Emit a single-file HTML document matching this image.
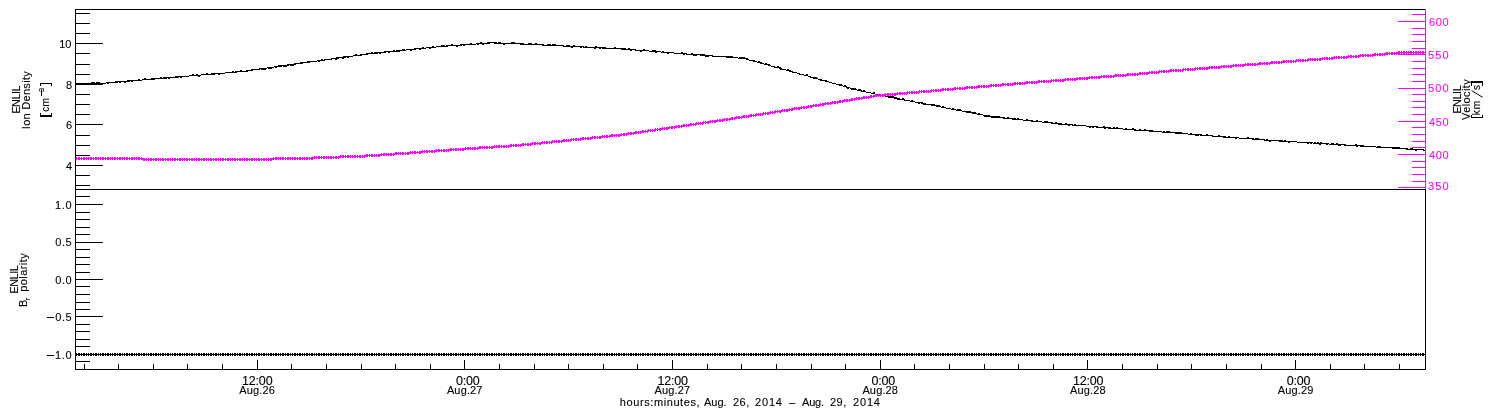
<!DOCTYPE html>
<html><head><meta charset="utf-8"><title>ENLIL</title>
<style>
html,body{margin:0;padding:0;background:#fff;}
svg{display:block}
svg{font-family:"Liberation Sans",sans-serif;}
</style></head><body>
<svg width="1500" height="410" viewBox="0 0 1500 410">
<rect width="1500" height="410" fill="#fff"/>
<g fill="none" stroke-width="1" shape-rendering="crispEdges">
<path stroke="#000" d="M75 9.5H1426M75 189.5H1426M75 369.5H1426M75.5 9V370M1425.5 189V370M75 13.5H90M75 23.5H90M75 33.5H90M75 43.5H103M75 53.5H90M75 64.5H90M75 74.5H90M75 84.5H103M75 94.5H90M75 104.5H90M75 114.5H90M75 124.5H103M75 135.5H90M75 145.5H90M75 155.5H90M75 165.5H103M75 175.5H90M75 185.5H90M75 196.5H90M75 204.5H103M75 212.5H90M75 219.5H90M75 227.5H90M75 234.5H90M75 242.5H103M75 249.5H90M75 257.5H90M75 264.5H90M75 272.5H90M75 279.5H103M75 286.5H90M75 294.5H90M75 302.5H90M75 309.5H90M75 316.5H103M75 324.5H90M75 331.5H90M75 339.5H90M75 346.5H90M75 354.5H103M75 361.5H90M84.5 364V370M118.5 364V370M153.5 364V370M187.5 364V370M222.5 364V370M257.5 360V370M291.5 364V370M326.5 364V370M361.5 364V370M395.5 364V370M430.5 364V370M464.5 360V370M499.5 364V370M534.5 364V370M568.5 364V370M603.5 364V370M637.5 364V370M672.5 360V370M707.5 364V370M741.5 364V370M776.5 364V370M811.5 364V370M845.5 364V370M880.5 360V370M914.5 364V370M949.5 364V370M984.5 364V370M1018.5 364V370M1053.5 364V370M1087.5 360V370M1122.5 364V370M1157.5 364V370M1191.5 364V370M1226.5 364V370M1261.5 364V370M1295.5 360V370M1330.5 364V370M1364.5 364V370M1399.5 364V370"/>
<path stroke="#f0f" d="M1425.5 9V189M1398 187.5H1426M1412 181.5H1426M1412 174.5H1426M1412 167.5H1426M1412 161.5H1426M1398 154.5H1426M1412 147.5H1426M1412 141.5H1426M1412 134.5H1426M1412 127.5H1426M1398 121.5H1426M1412 114.5H1426M1412 107.5H1426M1412 101.5H1426M1412 94.5H1426M1398 88.5H1426M1412 81.5H1426M1412 74.5H1426M1412 68.5H1426M1412 61.5H1426M1398 54.5H1426M1412 48.5H1426M1412 41.5H1426M1412 34.5H1426M1412 28.5H1426M1398 21.5H1426M1412 14.5H1426"/>
<path stroke="#000" d="M76 353.5h1M78 353.5h2M81 353.5h1M83 353.5h2M86 353.5h1M88 353.5h1M90 353.5h2M93 353.5h1M95 353.5h2M98 353.5h1M100 353.5h1M102 353.5h2M105 353.5h1M107 353.5h2M110 353.5h1M112 353.5h1M114 353.5h2M117 353.5h1M119 353.5h2M122 353.5h1M124 353.5h1M126 353.5h2M129 353.5h1M131 353.5h2M134 353.5h1M136 353.5h1M138 353.5h2M141 353.5h1M143 353.5h2M146 353.5h1M148 353.5h1M150 353.5h2M153 353.5h1M155 353.5h2M158 353.5h1M160 353.5h1M162 353.5h2M165 353.5h1M167 353.5h2M170 353.5h1M172 353.5h1M174 353.5h2M177 353.5h1M179 353.5h2M182 353.5h1M184 353.5h1M186 353.5h2M189 353.5h1M191 353.5h2M194 353.5h1M196 353.5h1M198 353.5h2M201 353.5h1M203 353.5h2M206 353.5h1M208 353.5h1M210 353.5h2M213 353.5h1M215 353.5h2M218 353.5h1M220 353.5h1M222 353.5h2M225 353.5h1M227 353.5h2M230 353.5h1M232 353.5h1M234 353.5h2M237 353.5h1M239 353.5h2M242 353.5h1M244 353.5h1M246 353.5h2M249 353.5h1M251 353.5h2M254 353.5h1M256 353.5h1M258 353.5h2M261 353.5h1M263 353.5h2M266 353.5h1M268 353.5h1M270 353.5h2M273 353.5h1M275 353.5h2M278 353.5h1M280 353.5h1M282 353.5h2M285 353.5h1M287 353.5h2M290 353.5h1M292 353.5h1M294 353.5h2M297 353.5h1M299 353.5h2M302 353.5h1M304 353.5h1M306 353.5h2M309 353.5h1M311 353.5h2M314 353.5h1M316 353.5h1M318 353.5h2M321 353.5h1M323 353.5h2M326 353.5h1M328 353.5h1M330 353.5h2M333 353.5h1M335 353.5h2M338 353.5h1M340 353.5h1M342 353.5h2M345 353.5h1M347 353.5h2M350 353.5h1M352 353.5h1M354 353.5h2M357 353.5h1M359 353.5h2M362 353.5h1M364 353.5h1M366 353.5h2M369 353.5h1M371 353.5h2M374 353.5h1M376 353.5h1M378 353.5h2M381 353.5h1M383 353.5h2M386 353.5h1M388 353.5h1M390 353.5h2M393 353.5h1M395 353.5h2M398 353.5h1M400 353.5h1M402 353.5h2M405 353.5h1M407 353.5h2M410 353.5h1M412 353.5h1M414 353.5h2M417 353.5h1M419 353.5h2M422 353.5h1M424 353.5h1M426 353.5h2M429 353.5h1M431 353.5h2M434 353.5h1M436 353.5h1M438 353.5h2M441 353.5h1M443 353.5h2M446 353.5h1M448 353.5h1M450 353.5h2M453 353.5h1M455 353.5h2M458 353.5h1M460 353.5h1M462 353.5h2M465 353.5h1M467 353.5h2M470 353.5h1M472 353.5h1M474 353.5h2M477 353.5h1M479 353.5h2M482 353.5h1M484 353.5h1M486 353.5h2M489 353.5h1M491 353.5h2M494 353.5h1M496 353.5h1M498 353.5h2M501 353.5h1M503 353.5h2M506 353.5h1M508 353.5h1M510 353.5h2M513 353.5h1M515 353.5h2M518 353.5h1M520 353.5h1M522 353.5h2M525 353.5h1M527 353.5h2M530 353.5h1M532 353.5h1M534 353.5h2M537 353.5h1M539 353.5h2M542 353.5h1M544 353.5h1M546 353.5h2M549 353.5h1M551 353.5h2M554 353.5h1M556 353.5h1M558 353.5h2M561 353.5h1M563 353.5h2M566 353.5h1M568 353.5h1M570 353.5h2M573 353.5h1M575 353.5h2M578 353.5h1M580 353.5h1M582 353.5h2M585 353.5h1M587 353.5h2M590 353.5h1M592 353.5h1M594 353.5h2M597 353.5h1M599 353.5h2M602 353.5h1M604 353.5h1M606 353.5h2M609 353.5h1M611 353.5h2M614 353.5h1M616 353.5h1M618 353.5h2M621 353.5h1M623 353.5h2M626 353.5h1M628 353.5h1M630 353.5h2M633 353.5h1M635 353.5h2M638 353.5h1M640 353.5h1M642 353.5h2M645 353.5h1M647 353.5h2M650 353.5h1M652 353.5h1M654 353.5h2M657 353.5h1M659 353.5h2M662 353.5h1M664 353.5h1M666 353.5h2M669 353.5h1M671 353.5h2M674 353.5h1M676 353.5h1M678 353.5h2M681 353.5h1M683 353.5h2M686 353.5h1M688 353.5h1M690 353.5h2M693 353.5h1M695 353.5h2M698 353.5h1M700 353.5h1M702 353.5h2M705 353.5h1M707 353.5h2M710 353.5h1M712 353.5h1M714 353.5h2M717 353.5h1M719 353.5h2M722 353.5h1M724 353.5h1M726 353.5h2M729 353.5h1M731 353.5h2M734 353.5h1M736 353.5h1M738 353.5h2M741 353.5h1M743 353.5h2M746 353.5h1M748 353.5h1M750 353.5h2M753 353.5h1M755 353.5h2M758 353.5h1M760 353.5h1M762 353.5h2M765 353.5h1M767 353.5h2M770 353.5h1M772 353.5h1M774 353.5h2M777 353.5h1M779 353.5h2M782 353.5h1M784 353.5h1M786 353.5h2M789 353.5h1M791 353.5h2M794 353.5h1M796 353.5h1M798 353.5h2M801 353.5h1M803 353.5h2M806 353.5h1M808 353.5h1M810 353.5h2M813 353.5h1M815 353.5h2M818 353.5h1M820 353.5h1M822 353.5h2M825 353.5h1M827 353.5h2M830 353.5h1M832 353.5h1M834 353.5h2M837 353.5h1M839 353.5h2M842 353.5h1M844 353.5h1M846 353.5h2M849 353.5h1M851 353.5h2M854 353.5h1M856 353.5h1M858 353.5h2M861 353.5h1M863 353.5h2M866 353.5h1M868 353.5h1M870 353.5h2M873 353.5h1M875 353.5h2M878 353.5h1M880 353.5h1M882 353.5h2M885 353.5h1M887 353.5h2M890 353.5h1M892 353.5h1M894 353.5h2M897 353.5h1M899 353.5h2M902 353.5h1M904 353.5h1M906 353.5h2M909 353.5h1M911 353.5h2M914 353.5h1M916 353.5h1M918 353.5h2M921 353.5h1M923 353.5h2M926 353.5h1M928 353.5h1M930 353.5h2M933 353.5h1M935 353.5h2M938 353.5h1M940 353.5h1M942 353.5h2M945 353.5h1M947 353.5h2M950 353.5h1M952 353.5h1M954 353.5h2M957 353.5h1M959 353.5h2M962 353.5h1M964 353.5h1M966 353.5h2M969 353.5h1M971 353.5h2M974 353.5h1M976 353.5h1M978 353.5h2M981 353.5h1M983 353.5h2M986 353.5h1M988 353.5h1M990 353.5h2M993 353.5h1M995 353.5h2M998 353.5h1M1000 353.5h1M1002 353.5h2M1005 353.5h1M1007 353.5h2M1010 353.5h1M1012 353.5h1M1014 353.5h2M1017 353.5h1M1019 353.5h2M1022 353.5h1M1024 353.5h1M1026 353.5h2M1029 353.5h1M1031 353.5h2M1034 353.5h1M1036 353.5h1M1038 353.5h2M1041 353.5h1M1043 353.5h2M1046 353.5h1M1048 353.5h1M1050 353.5h2M1053 353.5h1M1055 353.5h2M1058 353.5h1M1060 353.5h1M1062 353.5h2M1065 353.5h1M1067 353.5h2M1070 353.5h1M1072 353.5h1M1074 353.5h2M1077 353.5h1M1079 353.5h2M1082 353.5h1M1084 353.5h1M1086 353.5h2M1089 353.5h1M1091 353.5h2M1094 353.5h1M1096 353.5h1M1098 353.5h2M1101 353.5h1M1103 353.5h2M1106 353.5h1M1108 353.5h1M1110 353.5h2M1113 353.5h1M1115 353.5h2M1118 353.5h1M1120 353.5h1M1122 353.5h2M1125 353.5h1M1127 353.5h2M1130 353.5h1M1132 353.5h1M1134 353.5h2M1137 353.5h1M1139 353.5h2M1142 353.5h1M1144 353.5h1M1146 353.5h2M1149 353.5h1M1151 353.5h2M1154 353.5h1M1156 353.5h1M1158 353.5h2M1161 353.5h1M1163 353.5h2M1166 353.5h1M1168 353.5h1M1170 353.5h2M1173 353.5h1M1175 353.5h2M1178 353.5h1M1180 353.5h1M1182 353.5h2M1185 353.5h1M1187 353.5h2M1190 353.5h1M1192 353.5h1M1194 353.5h2M1197 353.5h1M1199 353.5h2M1202 353.5h1M1204 353.5h1M1206 353.5h2M1209 353.5h1M1211 353.5h2M1214 353.5h1M1216 353.5h1M1218 353.5h2M1221 353.5h1M1223 353.5h2M1226 353.5h1M1228 353.5h1M1230 353.5h2M1233 353.5h1M1235 353.5h2M1238 353.5h1M1240 353.5h1M1242 353.5h2M1245 353.5h1M1247 353.5h2M1250 353.5h1M1252 353.5h1M1254 353.5h2M1257 353.5h1M1259 353.5h2M1262 353.5h1M1264 353.5h1M1266 353.5h2M1269 353.5h1M1271 353.5h2M1274 353.5h1M1276 353.5h1M1278 353.5h2M1281 353.5h1M1283 353.5h2M1286 353.5h1M1288 353.5h1M1290 353.5h2M1293 353.5h1M1295 353.5h2M1298 353.5h1M1300 353.5h1M1302 353.5h2M1305 353.5h1M1307 353.5h2M1310 353.5h1M1312 353.5h1M1314 353.5h2M1317 353.5h1M1319 353.5h2M1322 353.5h1M1324 353.5h1M1326 353.5h2M1329 353.5h1M1331 353.5h2M1334 353.5h1M1336 353.5h1M1338 353.5h2M1341 353.5h1M1343 353.5h2M1346 353.5h1M1348 353.5h1M1350 353.5h2M1353 353.5h1M1355 353.5h2M1358 353.5h1M1360 353.5h1M1362 353.5h2M1365 353.5h1M1367 353.5h2M1370 353.5h1M1372 353.5h1M1374 353.5h2M1377 353.5h1M1379 353.5h2M1382 353.5h1M1384 353.5h1M1386 353.5h2M1389 353.5h1M1391 353.5h2M1394 353.5h1M1396 353.5h1M1398 353.5h2M1401 353.5h1M1403 353.5h2M1406 353.5h1M1408 353.5h1M1410 353.5h2M1413 353.5h1M1415 353.5h2M1418 353.5h1M1420 353.5h1M1422 353.5h2M1425 353.5h1M75 354.5h1351M76 355.5h1M78 355.5h2M81 355.5h1M83 355.5h2M86 355.5h1M88 355.5h1M90 355.5h2M93 355.5h1M95 355.5h2M98 355.5h1M100 355.5h1M102 355.5h2M105 355.5h1M107 355.5h2M110 355.5h1M112 355.5h1M114 355.5h2M117 355.5h1M119 355.5h2M122 355.5h1M124 355.5h1M126 355.5h2M129 355.5h1M131 355.5h2M134 355.5h1M136 355.5h1M138 355.5h2M141 355.5h1M143 355.5h2M146 355.5h1M148 355.5h1M150 355.5h2M153 355.5h1M155 355.5h2M158 355.5h1M160 355.5h1M162 355.5h2M165 355.5h1M167 355.5h2M170 355.5h1M172 355.5h1M174 355.5h2M177 355.5h1M179 355.5h2M182 355.5h1M184 355.5h1M186 355.5h2M189 355.5h1M191 355.5h2M194 355.5h1M196 355.5h1M198 355.5h2M201 355.5h1M203 355.5h2M206 355.5h1M208 355.5h1M210 355.5h2M213 355.5h1M215 355.5h2M218 355.5h1M220 355.5h1M222 355.5h2M225 355.5h1M227 355.5h2M230 355.5h1M232 355.5h1M234 355.5h2M237 355.5h1M239 355.5h2M242 355.5h1M244 355.5h1M246 355.5h2M249 355.5h1M251 355.5h2M254 355.5h1M256 355.5h1M258 355.5h2M261 355.5h1M263 355.5h2M266 355.5h1M268 355.5h1M270 355.5h2M273 355.5h1M275 355.5h2M278 355.5h1M280 355.5h1M282 355.5h2M285 355.5h1M287 355.5h2M290 355.5h1M292 355.5h1M294 355.5h2M297 355.5h1M299 355.5h2M302 355.5h1M304 355.5h1M306 355.5h2M309 355.5h1M311 355.5h2M314 355.5h1M316 355.5h1M318 355.5h2M321 355.5h1M323 355.5h2M326 355.5h1M328 355.5h1M330 355.5h2M333 355.5h1M335 355.5h2M338 355.5h1M340 355.5h1M342 355.5h2M345 355.5h1M347 355.5h2M350 355.5h1M352 355.5h1M354 355.5h2M357 355.5h1M359 355.5h2M362 355.5h1M364 355.5h1M366 355.5h2M369 355.5h1M371 355.5h2M374 355.5h1M376 355.5h1M378 355.5h2M381 355.5h1M383 355.5h2M386 355.5h1M388 355.5h1M390 355.5h2M393 355.5h1M395 355.5h2M398 355.5h1M400 355.5h1M402 355.5h2M405 355.5h1M407 355.5h2M410 355.5h1M412 355.5h1M414 355.5h2M417 355.5h1M419 355.5h2M422 355.5h1M424 355.5h1M426 355.5h2M429 355.5h1M431 355.5h2M434 355.5h1M436 355.5h1M438 355.5h2M441 355.5h1M443 355.5h2M446 355.5h1M448 355.5h1M450 355.5h2M453 355.5h1M455 355.5h2M458 355.5h1M460 355.5h1M462 355.5h2M465 355.5h1M467 355.5h2M470 355.5h1M472 355.5h1M474 355.5h2M477 355.5h1M479 355.5h2M482 355.5h1M484 355.5h1M486 355.5h2M489 355.5h1M491 355.5h2M494 355.5h1M496 355.5h1M498 355.5h2M501 355.5h1M503 355.5h2M506 355.5h1M508 355.5h1M510 355.5h2M513 355.5h1M515 355.5h2M518 355.5h1M520 355.5h1M522 355.5h2M525 355.5h1M527 355.5h2M530 355.5h1M532 355.5h1M534 355.5h2M537 355.5h1M539 355.5h2M542 355.5h1M544 355.5h1M546 355.5h2M549 355.5h1M551 355.5h2M554 355.5h1M556 355.5h1M558 355.5h2M561 355.5h1M563 355.5h2M566 355.5h1M568 355.5h1M570 355.5h2M573 355.5h1M575 355.5h2M578 355.5h1M580 355.5h1M582 355.5h2M585 355.5h1M587 355.5h2M590 355.5h1M592 355.5h1M594 355.5h2M597 355.5h1M599 355.5h2M602 355.5h1M604 355.5h1M606 355.5h2M609 355.5h1M611 355.5h2M614 355.5h1M616 355.5h1M618 355.5h2M621 355.5h1M623 355.5h2M626 355.5h1M628 355.5h1M630 355.5h2M633 355.5h1M635 355.5h2M638 355.5h1M640 355.5h1M642 355.5h2M645 355.5h1M647 355.5h2M650 355.5h1M652 355.5h1M654 355.5h2M657 355.5h1M659 355.5h2M662 355.5h1M664 355.5h1M666 355.5h2M669 355.5h1M671 355.5h2M674 355.5h1M676 355.5h1M678 355.5h2M681 355.5h1M683 355.5h2M686 355.5h1M688 355.5h1M690 355.5h2M693 355.5h1M695 355.5h2M698 355.5h1M700 355.5h1M702 355.5h2M705 355.5h1M707 355.5h2M710 355.5h1M712 355.5h1M714 355.5h2M717 355.5h1M719 355.5h2M722 355.5h1M724 355.5h1M726 355.5h2M729 355.5h1M731 355.5h2M734 355.5h1M736 355.5h1M738 355.5h2M741 355.5h1M743 355.5h2M746 355.5h1M748 355.5h1M750 355.5h2M753 355.5h1M755 355.5h2M758 355.5h1M760 355.5h1M762 355.5h2M765 355.5h1M767 355.5h2M770 355.5h1M772 355.5h1M774 355.5h2M777 355.5h1M779 355.5h2M782 355.5h1M784 355.5h1M786 355.5h2M789 355.5h1M791 355.5h2M794 355.5h1M796 355.5h1M798 355.5h2M801 355.5h1M803 355.5h2M806 355.5h1M808 355.5h1M810 355.5h2M813 355.5h1M815 355.5h2M818 355.5h1M820 355.5h1M822 355.5h2M825 355.5h1M827 355.5h2M830 355.5h1M832 355.5h1M834 355.5h2M837 355.5h1M839 355.5h2M842 355.5h1M844 355.5h1M846 355.5h2M849 355.5h1M851 355.5h2M854 355.5h1M856 355.5h1M858 355.5h2M861 355.5h1M863 355.5h2M866 355.5h1M868 355.5h1M870 355.5h2M873 355.5h1M875 355.5h2M878 355.5h1M880 355.5h1M882 355.5h2M885 355.5h1M887 355.5h2M890 355.5h1M892 355.5h1M894 355.5h2M897 355.5h1M899 355.5h2M902 355.5h1M904 355.5h1M906 355.5h2M909 355.5h1M911 355.5h2M914 355.5h1M916 355.5h1M918 355.5h2M921 355.5h1M923 355.5h2M926 355.5h1M928 355.5h1M930 355.5h2M933 355.5h1M935 355.5h2M938 355.5h1M940 355.5h1M942 355.5h2M945 355.5h1M947 355.5h2M950 355.5h1M952 355.5h1M954 355.5h2M957 355.5h1M959 355.5h2M962 355.5h1M964 355.5h1M966 355.5h2M969 355.5h1M971 355.5h2M974 355.5h1M976 355.5h1M978 355.5h2M981 355.5h1M983 355.5h2M986 355.5h1M988 355.5h1M990 355.5h2M993 355.5h1M995 355.5h2M998 355.5h1M1000 355.5h1M1002 355.5h2M1005 355.5h1M1007 355.5h2M1010 355.5h1M1012 355.5h1M1014 355.5h2M1017 355.5h1M1019 355.5h2M1022 355.5h1M1024 355.5h1M1026 355.5h2M1029 355.5h1M1031 355.5h2M1034 355.5h1M1036 355.5h1M1038 355.5h2M1041 355.5h1M1043 355.5h2M1046 355.5h1M1048 355.5h1M1050 355.5h2M1053 355.5h1M1055 355.5h2M1058 355.5h1M1060 355.5h1M1062 355.5h2M1065 355.5h1M1067 355.5h2M1070 355.5h1M1072 355.5h1M1074 355.5h2M1077 355.5h1M1079 355.5h2M1082 355.5h1M1084 355.5h1M1086 355.5h2M1089 355.5h1M1091 355.5h2M1094 355.5h1M1096 355.5h1M1098 355.5h2M1101 355.5h1M1103 355.5h2M1106 355.5h1M1108 355.5h1M1110 355.5h2M1113 355.5h1M1115 355.5h2M1118 355.5h1M1120 355.5h1M1122 355.5h2M1125 355.5h1M1127 355.5h2M1130 355.5h1M1132 355.5h1M1134 355.5h2M1137 355.5h1M1139 355.5h2M1142 355.5h1M1144 355.5h1M1146 355.5h2M1149 355.5h1M1151 355.5h2M1154 355.5h1M1156 355.5h1M1158 355.5h2M1161 355.5h1M1163 355.5h2M1166 355.5h1M1168 355.5h1M1170 355.5h2M1173 355.5h1M1175 355.5h2M1178 355.5h1M1180 355.5h1M1182 355.5h2M1185 355.5h1M1187 355.5h2M1190 355.5h1M1192 355.5h1M1194 355.5h2M1197 355.5h1M1199 355.5h2M1202 355.5h1M1204 355.5h1M1206 355.5h2M1209 355.5h1M1211 355.5h2M1214 355.5h1M1216 355.5h1M1218 355.5h2M1221 355.5h1M1223 355.5h2M1226 355.5h1M1228 355.5h1M1230 355.5h2M1233 355.5h1M1235 355.5h2M1238 355.5h1M1240 355.5h1M1242 355.5h2M1245 355.5h1M1247 355.5h2M1250 355.5h1M1252 355.5h1M1254 355.5h2M1257 355.5h1M1259 355.5h2M1262 355.5h1M1264 355.5h1M1266 355.5h2M1269 355.5h1M1271 355.5h2M1274 355.5h1M1276 355.5h1M1278 355.5h2M1281 355.5h1M1283 355.5h2M1286 355.5h1M1288 355.5h1M1290 355.5h2M1293 355.5h1M1295 355.5h2M1298 355.5h1M1300 355.5h1M1302 355.5h2M1305 355.5h1M1307 355.5h2M1310 355.5h1M1312 355.5h1M1314 355.5h2M1317 355.5h1M1319 355.5h2M1322 355.5h1M1324 355.5h1M1326 355.5h2M1329 355.5h1M1331 355.5h2M1334 355.5h1M1336 355.5h1M1338 355.5h2M1341 355.5h1M1343 355.5h2M1346 355.5h1M1348 355.5h1M1350 355.5h2M1353 355.5h1M1355 355.5h2M1358 355.5h1M1360 355.5h1M1362 355.5h2M1365 355.5h1M1367 355.5h2M1370 355.5h1M1372 355.5h1M1374 355.5h2M1377 355.5h1M1379 355.5h2M1382 355.5h1M1384 355.5h1M1386 355.5h2M1389 355.5h1M1391 355.5h2M1394 355.5h1M1396 355.5h1M1398 355.5h2M1401 355.5h1M1403 355.5h2M1406 355.5h1M1408 355.5h1M1410 355.5h2M1413 355.5h1M1415 355.5h2M1418 355.5h1M1420 355.5h1M1422 355.5h2M1425 355.5h1"/>
<path stroke="#000" d="M480 42.5h2M487 42.5h10M498 42.5h3M511 42.5h4M470 43.5h2M476 43.5h14M494 43.5h30M528 43.5h4M535 43.5h2M451 44.5h2M460 44.5h16M477 44.5h2M482 44.5h2M503 44.5h2M520 44.5h24M547 44.5h4M552 44.5h4M441 45.5h4M446 45.5h16M463 45.5h2M542 45.5h22M566 45.5h4M573 45.5h2M432 46.5h2M436 46.5h12M456 46.5h2M563 46.5h21M585 46.5h2M595 46.5h2M422 47.5h2M426 47.5h10M571 47.5h2M580 47.5h2M583 47.5h23M614 47.5h2M414 48.5h12M429 48.5h2M594 48.5h2M599 48.5h2M602 48.5h24M628 48.5h2M402 49.5h3M406 49.5h10M419 49.5h2M621 49.5h15M643 49.5h2M393 50.5h2M396 50.5h10M410 50.5h2M630 50.5h2M635 50.5h14M652 50.5h4M384 51.5h16M640 51.5h2M649 51.5h12M662 51.5h2M371 52.5h2M374 52.5h12M388 52.5h2M655 52.5h2M661 52.5h13M681 52.5h2M366 53.5h12M379 53.5h2M667 53.5h2M674 53.5h13M691 53.5h2M355 54.5h2M360 54.5h8M683 54.5h2M686 54.5h19M353 55.5h9M693 55.5h4M700 55.5h13M343 56.5h10M705 56.5h4M712 56.5h21M336 57.5h10M347 57.5h2M726 57.5h12M739 57.5h6M331 58.5h8M342 58.5h2M738 58.5h10M321 59.5h2M324 59.5h8M335 59.5h2M746 59.5h3M317 60.5h8M749 60.5h6M307 61.5h10M318 61.5h2M753 61.5h4M758 61.5h2M300 62.5h10M757 62.5h5M294 63.5h9M760 63.5h4M765 63.5h2M287 64.5h9M764 64.5h6M278 65.5h11M290 65.5h4M768 65.5h3M274 66.5h8M283 66.5h4M771 66.5h4M777 66.5h2M267 67.5h7M275 67.5h2M774 67.5h7M259 68.5h8M268 68.5h4M779 68.5h3M251 69.5h9M261 69.5h5M780 69.5h6M787 69.5h2M240 70.5h2M246 70.5h7M786 70.5h5M232 71.5h2M235 71.5h13M789 71.5h4M225 72.5h12M792 72.5h5M206 73.5h2M211 73.5h14M797 73.5h3M192 74.5h2M196 74.5h2M201 74.5h14M218 74.5h2M799 74.5h5M806 74.5h2M189 75.5h12M804 75.5h4M175 76.5h14M198 76.5h2M808 76.5h3M160 77.5h2M163 77.5h16M180 77.5h2M810 77.5h7M144 78.5h2M151 78.5h16M168 78.5h2M813 78.5h5M138 79.5h2M142 79.5h13M818 79.5h4M127 80.5h15M820 80.5h7M115 81.5h15M131 81.5h2M825 81.5h4M91 82.5h4M96 82.5h4M106 82.5h12M119 82.5h2M124 82.5h2M829 82.5h3M76 83.5h30M107 83.5h2M832 83.5h4M75 84.5h1M79 84.5h4M90 84.5h2M836 84.5h6M839 85.5h4M844 85.5h2M843 86.5h4M846 87.5h4M847 88.5h2M850 88.5h6M851 89.5h6M858 89.5h3M857 90.5h5M863 90.5h2M861 91.5h5M866 92.5h5M873 92.5h2M871 93.5h4M875 94.5h5M878 95.5h7M885 96.5h9M888 97.5h9M894 98.5h6M902 98.5h2M897 99.5h8M904 100.5h6M911 100.5h2M910 101.5h5M915 102.5h8M918 103.5h2M921 103.5h5M923 104.5h12M931 105.5h9M936 106.5h5M942 106.5h2M941 107.5h5M946 108.5h5M952 108.5h2M951 109.5h5M957 109.5h4M956 110.5h6M962 111.5h9M966 112.5h10M972 113.5h5M978 113.5h2M977 114.5h6M983 115.5h7M984 116.5h16M991 117.5h14M1007 117.5h2M1003 118.5h13M1017 118.5h2M1012 119.5h11M1026 119.5h2M1023 120.5h10M1036 120.5h2M1031 121.5h11M1044 121.5h4M1042 122.5h11M1055 122.5h2M1051 123.5h11M1065 123.5h2M1058 124.5h15M1074 124.5h2M1068 125.5h2M1072 125.5h14M1086 126.5h12M1103 126.5h2M1089 127.5h2M1092 127.5h2M1096 127.5h15M1113 127.5h2M1116 127.5h2M1104 128.5h2M1108 128.5h15M1125 128.5h2M1132 128.5h2M1123 129.5h13M1139 129.5h2M1144 129.5h2M1134 130.5h19M1149 131.5h13M1163 131.5h2M1166 131.5h4M1162 132.5h20M1175 133.5h13M1190 133.5h2M1188 134.5h14M1206 134.5h2M1195 135.5h4M1200 135.5h13M1218 135.5h2M1212 136.5h14M1228 136.5h2M1223 137.5h16M1247 137.5h2M1235 138.5h2M1239 138.5h15M1255 138.5h4M1252 139.5h13M1266 139.5h2M1264 140.5h19M1284 140.5h2M1269 141.5h2M1279 141.5h18M1288 142.5h2M1297 142.5h16M1314 142.5h2M1317 142.5h2M1320 142.5h2M1307 143.5h2M1310 143.5h2M1313 143.5h16M1331 143.5h3M1336 143.5h2M1319 144.5h2M1326 144.5h2M1329 144.5h17M1355 144.5h2M1338 145.5h3M1344 145.5h20M1356 146.5h2M1360 146.5h16M1377 146.5h4M1376 147.5h24M1392 148.5h16M1410 148.5h3M1406 149.5h18M1415 150.5h2M1423 150.5h2"/>
<path stroke="#f0f" d="M1398 51.5h2M1401 51.5h1M1403 51.5h2M1406 51.5h1M1408 51.5h1M1410 51.5h2M1413 51.5h1M1415 51.5h2M1418 51.5h1M1420 51.5h1M1422 51.5h2M1425 51.5h1M1386 52.5h2M1389 52.5h1M1391 52.5h2M1394 52.5h1M1396 52.5h30M1374 53.5h2M1377 53.5h1M1379 53.5h2M1382 53.5h1M1384 53.5h16M1401 53.5h1M1403 53.5h2M1406 53.5h1M1408 53.5h1M1410 53.5h2M1413 53.5h1M1415 53.5h2M1418 53.5h1M1420 53.5h1M1422 53.5h2M1425 53.5h1M1360 54.5h1M1362 54.5h2M1365 54.5h1M1367 54.5h2M1370 54.5h1M1372 54.5h16M1389 54.5h1M1391 54.5h2M1394 54.5h1M1396 54.5h1M1348 55.5h1M1350 55.5h2M1353 55.5h1M1355 55.5h2M1358 55.5h18M1377 55.5h1M1379 55.5h2M1382 55.5h1M1384 55.5h1M1334 56.5h1M1336 56.5h1M1338 56.5h2M1341 56.5h1M1343 56.5h2M1346 56.5h15M1362 56.5h2M1365 56.5h1M1367 56.5h2M1370 56.5h1M1372 56.5h1M1322 57.5h1M1324 57.5h1M1326 57.5h2M1329 57.5h1M1331 57.5h18M1350 57.5h2M1353 57.5h1M1355 57.5h2M1358 57.5h1M1308 58.5h1M1310 58.5h1M1312 58.5h1M1314 58.5h2M1317 58.5h1M1319 58.5h16M1336 58.5h1M1338 58.5h2M1341 58.5h1M1343 58.5h2M1346 58.5h1M1296 59.5h1M1298 59.5h1M1300 59.5h1M1302 59.5h2M1305 59.5h1M1307 59.5h16M1324 59.5h1M1326 59.5h2M1329 59.5h1M1331 59.5h2M1283 60.5h2M1286 60.5h1M1288 60.5h1M1290 60.5h2M1293 60.5h1M1295 60.5h14M1310 60.5h1M1312 60.5h1M1314 60.5h2M1317 60.5h1M1319 60.5h2M1271 61.5h2M1274 61.5h1M1276 61.5h1M1278 61.5h2M1281 61.5h16M1298 61.5h1M1300 61.5h1M1302 61.5h2M1305 61.5h1M1307 61.5h1M1259 62.5h2M1262 62.5h1M1264 62.5h1M1266 62.5h2M1269 62.5h16M1286 62.5h1M1288 62.5h1M1290 62.5h2M1293 62.5h1M1295 62.5h1M1245 63.5h1M1247 63.5h2M1250 63.5h1M1252 63.5h1M1254 63.5h2M1257 63.5h16M1274 63.5h1M1276 63.5h1M1278 63.5h2M1281 63.5h1M1233 64.5h1M1235 64.5h2M1238 64.5h1M1240 64.5h1M1242 64.5h19M1262 64.5h1M1264 64.5h1M1266 64.5h2M1269 64.5h1M1221 65.5h1M1223 65.5h2M1226 65.5h1M1228 65.5h1M1230 65.5h16M1247 65.5h2M1250 65.5h1M1252 65.5h1M1254 65.5h2M1257 65.5h1M1209 66.5h1M1211 66.5h2M1214 66.5h1M1216 66.5h1M1218 66.5h16M1235 66.5h2M1238 66.5h1M1240 66.5h1M1242 66.5h2M1195 67.5h1M1197 67.5h1M1199 67.5h2M1202 67.5h1M1204 67.5h1M1206 67.5h16M1223 67.5h2M1226 67.5h1M1228 67.5h1M1230 67.5h2M1183 68.5h1M1185 68.5h1M1187 68.5h2M1190 68.5h1M1192 68.5h1M1194 68.5h16M1211 68.5h2M1214 68.5h1M1216 68.5h1M1218 68.5h2M1170 69.5h2M1173 69.5h1M1175 69.5h2M1178 69.5h1M1180 69.5h1M1182 69.5h14M1197 69.5h1M1199 69.5h2M1202 69.5h1M1204 69.5h1M1206 69.5h2M1159 70.5h1M1161 70.5h1M1163 70.5h2M1166 70.5h1M1168 70.5h16M1185 70.5h1M1187 70.5h2M1190 70.5h1M1192 70.5h1M1194 70.5h1M1149 71.5h1M1151 71.5h2M1154 71.5h1M1156 71.5h1M1158 71.5h14M1173 71.5h1M1175 71.5h2M1178 71.5h1M1180 71.5h1M1182 71.5h1M1139 72.5h2M1142 72.5h1M1144 72.5h1M1146 72.5h14M1161 72.5h1M1163 72.5h2M1166 72.5h1M1168 72.5h1M1127 73.5h2M1130 73.5h1M1132 73.5h1M1134 73.5h2M1137 73.5h13M1151 73.5h2M1154 73.5h1M1156 73.5h1M1158 73.5h1M1115 74.5h2M1118 74.5h1M1120 74.5h1M1122 74.5h2M1125 74.5h16M1142 74.5h1M1144 74.5h1M1146 74.5h2M1101 75.5h1M1103 75.5h2M1106 75.5h1M1108 75.5h1M1110 75.5h2M1113 75.5h16M1130 75.5h1M1132 75.5h1M1134 75.5h2M1137 75.5h1M1089 76.5h1M1091 76.5h2M1094 76.5h1M1096 76.5h1M1098 76.5h19M1118 76.5h1M1120 76.5h1M1122 76.5h2M1125 76.5h1M1077 77.5h1M1079 77.5h2M1082 77.5h1M1084 77.5h1M1086 77.5h16M1103 77.5h2M1106 77.5h1M1108 77.5h1M1110 77.5h2M1113 77.5h1M1065 78.5h1M1067 78.5h2M1070 78.5h1M1072 78.5h1M1074 78.5h16M1091 78.5h2M1094 78.5h1M1096 78.5h1M1098 78.5h2M1051 79.5h1M1053 79.5h1M1055 79.5h2M1058 79.5h1M1060 79.5h1M1062 79.5h16M1079 79.5h2M1082 79.5h1M1084 79.5h1M1086 79.5h2M1038 80.5h2M1041 80.5h1M1043 80.5h2M1046 80.5h1M1048 80.5h1M1050 80.5h16M1067 80.5h2M1070 80.5h1M1072 80.5h1M1074 80.5h2M1026 81.5h2M1029 81.5h1M1031 81.5h2M1034 81.5h1M1036 81.5h16M1053 81.5h1M1055 81.5h2M1058 81.5h1M1060 81.5h1M1062 81.5h2M1014 82.5h2M1017 82.5h1M1019 82.5h2M1022 82.5h1M1024 82.5h16M1041 82.5h1M1043 82.5h2M1046 82.5h1M1048 82.5h1M1050 82.5h1M1002 83.5h2M1005 83.5h1M1007 83.5h2M1010 83.5h1M1012 83.5h16M1029 83.5h1M1031 83.5h2M1034 83.5h1M1036 83.5h1M990 84.5h2M993 84.5h1M995 84.5h2M998 84.5h1M1000 84.5h16M1017 84.5h1M1019 84.5h2M1022 84.5h1M1024 84.5h1M978 85.5h2M981 85.5h1M983 85.5h2M986 85.5h1M988 85.5h16M1005 85.5h1M1007 85.5h2M1010 85.5h1M1012 85.5h1M966 86.5h2M969 86.5h1M971 86.5h2M974 86.5h1M976 86.5h16M993 86.5h1M995 86.5h2M998 86.5h1M1000 86.5h1M954 87.5h2M957 87.5h1M959 87.5h2M962 87.5h1M964 87.5h16M981 87.5h1M983 87.5h2M986 87.5h1M988 87.5h1M942 88.5h2M945 88.5h1M947 88.5h2M950 88.5h1M952 88.5h16M969 88.5h1M971 88.5h2M974 88.5h1M976 88.5h1M931 89.5h1M933 89.5h1M935 89.5h2M938 89.5h1M940 89.5h16M957 89.5h1M959 89.5h2M962 89.5h1M964 89.5h1M919 90.5h1M921 90.5h1M923 90.5h2M926 90.5h1M928 90.5h1M930 90.5h14M945 90.5h1M947 90.5h2M950 90.5h1M952 90.5h1M907 91.5h1M909 91.5h1M911 91.5h2M914 91.5h1M916 91.5h1M918 91.5h14M933 91.5h1M935 91.5h2M938 91.5h1M940 91.5h1M897 92.5h1M899 92.5h2M902 92.5h1M904 92.5h1M906 92.5h14M921 92.5h1M923 92.5h2M926 92.5h1M928 92.5h1M930 92.5h1M885 93.5h1M887 93.5h2M890 93.5h1M892 93.5h1M894 93.5h14M909 93.5h1M911 93.5h2M914 93.5h1M916 93.5h1M918 93.5h1M875 94.5h2M878 94.5h1M880 94.5h1M882 94.5h16M899 94.5h2M902 94.5h1M904 94.5h1M906 94.5h1M870 95.5h2M873 95.5h13M887 95.5h2M890 95.5h1M892 95.5h1M894 95.5h2M863 96.5h2M866 96.5h1M868 96.5h9M878 96.5h1M880 96.5h1M882 96.5h2M856 97.5h1M858 97.5h2M861 97.5h11M873 97.5h1M851 98.5h2M854 98.5h11M866 98.5h1M868 98.5h1M844 99.5h1M846 99.5h2M849 99.5h8M858 99.5h2M861 99.5h1M839 100.5h2M842 100.5h11M854 100.5h1M832 101.5h1M834 101.5h2M837 101.5h8M846 101.5h2M849 101.5h1M825 102.5h1M827 102.5h2M830 102.5h11M842 102.5h1M820 103.5h1M822 103.5h11M834 103.5h2M837 103.5h1M813 104.5h1M815 104.5h2M818 104.5h8M827 104.5h2M830 104.5h1M808 105.5h1M810 105.5h11M822 105.5h2M801 106.5h1M803 106.5h2M806 106.5h8M815 106.5h2M818 106.5h1M794 107.5h1M796 107.5h1M798 107.5h11M810 107.5h2M789 108.5h1M791 108.5h11M803 108.5h2M806 108.5h1M782 109.5h1M784 109.5h1M786 109.5h9M796 109.5h1M798 109.5h2M775 110.5h1M777 110.5h1M779 110.5h11M791 110.5h2M770 111.5h1M772 111.5h1M774 111.5h9M784 111.5h1M786 111.5h2M763 112.5h1M765 112.5h1M767 112.5h9M777 112.5h1M779 112.5h2M756 113.5h1M758 113.5h1M760 113.5h1M762 113.5h9M772 113.5h1M774 113.5h1M750 114.5h2M753 114.5h1M755 114.5h9M765 114.5h1M767 114.5h2M743 115.5h2M746 115.5h1M748 115.5h9M758 115.5h1M760 115.5h1M762 115.5h1M736 116.5h1M738 116.5h2M741 116.5h11M753 116.5h1M755 116.5h1M731 117.5h2M734 117.5h11M746 117.5h1M748 117.5h1M724 118.5h1M726 118.5h2M729 118.5h8M738 118.5h2M741 118.5h1M717 119.5h1M719 119.5h2M722 119.5h11M734 119.5h1M710 120.5h1M712 120.5h1M714 120.5h11M726 120.5h2M729 120.5h1M703 121.5h1M705 121.5h1M707 121.5h11M719 121.5h2M722 121.5h1M696 122.5h1M698 122.5h1M700 122.5h1M702 122.5h9M712 122.5h1M714 122.5h2M690 123.5h2M693 123.5h1M695 123.5h9M705 123.5h1M707 123.5h2M683 124.5h2M686 124.5h1M688 124.5h9M698 124.5h1M700 124.5h1M702 124.5h1M676 125.5h1M678 125.5h2M681 125.5h11M693 125.5h1M695 125.5h1M669 126.5h1M671 126.5h2M674 126.5h11M686 126.5h1M688 126.5h1M662 127.5h1M664 127.5h1M666 127.5h11M678 127.5h2M681 127.5h1M655 128.5h1M657 128.5h1M659 128.5h11M671 128.5h2M674 128.5h1M648 129.5h1M650 129.5h1M652 129.5h1M654 129.5h9M664 129.5h1M666 129.5h2M642 130.5h2M645 130.5h1M647 130.5h9M657 130.5h1M659 130.5h2M635 131.5h2M638 131.5h1M640 131.5h9M650 131.5h1M652 131.5h1M654 131.5h1M628 132.5h1M630 132.5h2M633 132.5h11M645 132.5h1M647 132.5h1M621 133.5h1M623 133.5h2M626 133.5h11M638 133.5h1M640 133.5h1M611 134.5h2M614 134.5h1M616 134.5h1M618 134.5h11M630 134.5h2M633 134.5h1M602 135.5h1M604 135.5h1M606 135.5h2M609 135.5h13M623 135.5h2M626 135.5h1M592 136.5h1M594 136.5h2M597 136.5h1M599 136.5h14M614 136.5h1M616 136.5h1M618 136.5h2M582 137.5h2M585 137.5h1M587 137.5h2M590 137.5h13M604 137.5h1M606 137.5h2M609 137.5h1M571 138.5h1M573 138.5h1M575 138.5h2M578 138.5h1M580 138.5h13M594 138.5h2M597 138.5h1M599 138.5h2M563 139.5h2M566 139.5h1M568 139.5h1M570 139.5h14M585 139.5h1M587 139.5h2M590 139.5h1M552 140.5h1M554 140.5h1M556 140.5h1M558 140.5h2M561 140.5h11M573 140.5h1M575 140.5h2M578 140.5h1M580 140.5h1M542 141.5h1M544 141.5h1M546 141.5h2M549 141.5h1M551 141.5h14M566 141.5h1M568 141.5h1M570 141.5h1M532 142.5h1M534 142.5h2M537 142.5h1M539 142.5h14M554 142.5h1M556 142.5h1M558 142.5h2M561 142.5h1M522 143.5h2M525 143.5h1M527 143.5h2M530 143.5h13M544 143.5h1M546 143.5h2M549 143.5h1M551 143.5h1M510 144.5h2M513 144.5h1M515 144.5h2M518 144.5h1M520 144.5h13M534 144.5h2M537 144.5h1M539 144.5h2M494 145.5h1M496 145.5h1M498 145.5h2M501 145.5h1M503 145.5h2M506 145.5h1M508 145.5h16M525 145.5h1M527 145.5h2M530 145.5h1M479 146.5h2M482 146.5h1M484 146.5h1M486 146.5h2M489 146.5h1M491 146.5h21M513 146.5h1M515 146.5h2M518 146.5h1M520 146.5h1M465 147.5h1M467 147.5h2M470 147.5h1M472 147.5h1M474 147.5h2M477 147.5h18M496 147.5h1M498 147.5h2M501 147.5h1M503 147.5h2M506 147.5h1M508 147.5h1M450 148.5h2M453 148.5h1M455 148.5h2M458 148.5h1M460 148.5h1M462 148.5h19M482 148.5h1M484 148.5h1M486 148.5h2M489 148.5h1M491 148.5h2M436 149.5h1M438 149.5h2M441 149.5h1M443 149.5h2M446 149.5h1M448 149.5h18M467 149.5h2M470 149.5h1M472 149.5h1M474 149.5h2M477 149.5h1M422 150.5h1M424 150.5h1M426 150.5h2M429 150.5h1M431 150.5h2M434 150.5h18M453 150.5h1M455 150.5h2M458 150.5h1M460 150.5h1M462 150.5h2M410 151.5h1M412 151.5h1M414 151.5h2M417 151.5h1M419 151.5h18M438 151.5h2M441 151.5h1M443 151.5h2M446 151.5h1M448 151.5h1M395 152.5h2M398 152.5h1M400 152.5h1M402 152.5h2M405 152.5h1M407 152.5h16M424 152.5h1M426 152.5h2M429 152.5h1M431 152.5h2M434 152.5h1M381 153.5h1M383 153.5h2M386 153.5h1M388 153.5h1M390 153.5h2M393 153.5h18M412 153.5h1M414 153.5h2M417 153.5h1M419 153.5h2M366 154.5h2M369 154.5h1M371 154.5h2M374 154.5h1M376 154.5h1M378 154.5h19M398 154.5h1M400 154.5h1M402 154.5h2M405 154.5h1M407 154.5h2M340 155.5h1M342 155.5h2M345 155.5h1M347 155.5h2M350 155.5h1M352 155.5h1M354 155.5h2M357 155.5h1M359 155.5h2M362 155.5h1M364 155.5h18M383 155.5h2M386 155.5h1M388 155.5h1M390 155.5h2M393 155.5h1M314 156.5h1M316 156.5h1M318 156.5h2M321 156.5h1M323 156.5h2M326 156.5h1M328 156.5h1M330 156.5h2M333 156.5h1M335 156.5h2M338 156.5h30M369 156.5h1M371 156.5h2M374 156.5h1M376 156.5h1M378 156.5h2M76 157.5h1M78 157.5h2M81 157.5h1M83 157.5h2M86 157.5h1M88 157.5h1M90 157.5h2M93 157.5h1M95 157.5h2M98 157.5h1M100 157.5h1M102 157.5h2M105 157.5h1M107 157.5h2M110 157.5h1M112 157.5h1M114 157.5h2M117 157.5h1M119 157.5h2M122 157.5h1M124 157.5h1M126 157.5h2M129 157.5h1M131 157.5h2M134 157.5h1M136 157.5h1M138 157.5h2M141 157.5h1M273 157.5h1M275 157.5h2M278 157.5h1M280 157.5h1M282 157.5h2M285 157.5h1M287 157.5h2M290 157.5h1M292 157.5h1M294 157.5h2M297 157.5h1M299 157.5h2M302 157.5h1M304 157.5h1M306 157.5h2M309 157.5h1M311 157.5h30M342 157.5h2M345 157.5h1M347 157.5h2M350 157.5h1M352 157.5h1M354 157.5h2M357 157.5h1M359 157.5h2M362 157.5h1M364 157.5h1M75 158.5h70M146 158.5h1M148 158.5h1M150 158.5h2M153 158.5h1M155 158.5h2M158 158.5h1M160 158.5h1M162 158.5h2M165 158.5h1M167 158.5h2M170 158.5h1M172 158.5h1M174 158.5h2M177 158.5h1M179 158.5h2M182 158.5h1M184 158.5h1M186 158.5h2M189 158.5h1M191 158.5h2M194 158.5h1M196 158.5h1M198 158.5h2M201 158.5h1M203 158.5h2M206 158.5h1M208 158.5h1M210 158.5h2M213 158.5h1M215 158.5h2M218 158.5h1M220 158.5h1M222 158.5h2M225 158.5h1M227 158.5h2M230 158.5h1M232 158.5h1M234 158.5h2M237 158.5h1M239 158.5h2M242 158.5h1M244 158.5h1M246 158.5h2M249 158.5h1M251 158.5h2M254 158.5h1M256 158.5h1M258 158.5h2M261 158.5h1M263 158.5h2M266 158.5h1M268 158.5h1M270 158.5h45M316 158.5h1M318 158.5h2M321 158.5h1M323 158.5h2M326 158.5h1M328 158.5h1M330 158.5h2M333 158.5h1M335 158.5h2M338 158.5h1M76 159.5h1M78 159.5h2M81 159.5h1M83 159.5h2M86 159.5h1M88 159.5h1M90 159.5h2M93 159.5h1M95 159.5h2M98 159.5h1M100 159.5h1M102 159.5h2M105 159.5h1M107 159.5h2M110 159.5h1M112 159.5h1M114 159.5h2M117 159.5h1M119 159.5h2M122 159.5h1M124 159.5h1M126 159.5h2M129 159.5h1M131 159.5h2M134 159.5h1M136 159.5h1M138 159.5h2M141 159.5h133M275 159.5h2M278 159.5h1M280 159.5h1M282 159.5h2M285 159.5h1M287 159.5h2M290 159.5h1M292 159.5h1M294 159.5h2M297 159.5h1M299 159.5h2M302 159.5h1M304 159.5h1M306 159.5h2M309 159.5h1M311 159.5h2M143 160.5h2M146 160.5h1M148 160.5h1M150 160.5h2M153 160.5h1M155 160.5h2M158 160.5h1M160 160.5h1M162 160.5h2M165 160.5h1M167 160.5h2M170 160.5h1M172 160.5h1M174 160.5h2M177 160.5h1M179 160.5h2M182 160.5h1M184 160.5h1M186 160.5h2M189 160.5h1M191 160.5h2M194 160.5h1M196 160.5h1M198 160.5h2M201 160.5h1M203 160.5h2M206 160.5h1M208 160.5h1M210 160.5h2M213 160.5h1M215 160.5h2M218 160.5h1M220 160.5h1M222 160.5h2M225 160.5h1M227 160.5h2M230 160.5h1M232 160.5h1M234 160.5h2M237 160.5h1M239 160.5h2M242 160.5h1M244 160.5h1M246 160.5h2M249 160.5h1M251 160.5h2M254 160.5h1M256 160.5h1M258 160.5h2M261 160.5h1M263 160.5h2M266 160.5h1M268 160.5h1M270 160.5h2"/>
</g>
<path shape-rendering="crispEdges" fill="#000" d="M40 115h12v2h-12zM40 113h1v2h-1zM51 113h1v2h-1zM40 83h12v1h-12zM40 84h1v2h-1zM51 84h1v2h-1zM41 90h1v6h-1zM47 317h7v1h-7zM47 355h7v1h-7zM1471 117h12v1h-12zM1471 115h1v2h-1zM1482 115h1v2h-1zM1471 81h12v2h-12zM1471 83h1v3h-1zM1482 83h1v3h-1z"/><path d="M1471.6 90.6L1482.6 97.3" stroke="#000" stroke-width="1" fill="none"/><g id="txt" opacity="0.999" font-family="Liberation Sans, sans-serif" font-size="11" fill="#000" stroke="#000" stroke-width="0.12"><text x="59.2" y="48" >10</text>
<text x="66.1" y="89" >8</text>
<text x="66.1" y="129" >6</text>
<text x="66.1" y="170" >4</text>
<text x="55.0" y="209"  letter-spacing="0.70">1.0</text>
<text x="55.2" y="246"  letter-spacing="0.60">0.5</text>
<text x="55.2" y="284"  letter-spacing="0.60">0.0</text>
<text x="55.2" y="321"  letter-spacing="0.60">0.5</text>
<text x="55.0" y="359"  letter-spacing="0.70">1.0</text>
<text x="1428.9" y="26"  fill="#f0f" stroke="#f0f" stroke-width="0.1" letter-spacing="0.65">600</text>
<text x="1427.9" y="59"  fill="#f0f" stroke="#f0f" stroke-width="0.1" letter-spacing="1.15">550</text>
<text x="1427.9" y="92"  fill="#f0f" stroke="#f0f" stroke-width="0.1" letter-spacing="1.15">500</text>
<text x="1428.9" y="126"  fill="#f0f" stroke="#f0f" stroke-width="0.1" letter-spacing="0.65">450</text>
<text x="1428.9" y="159"  fill="#f0f" stroke="#f0f" stroke-width="0.1" letter-spacing="0.65">400</text>
<text x="1427.9" y="190"  fill="#f0f" stroke="#f0f" stroke-width="0.1" letter-spacing="1.15">350</text>
<text x="242.0" y="385" font-size="12.5" letter-spacing="-0.17">12:00</text>
<text x="239.2" y="394"  letter-spacing="0.14">Aug.26</text>
<text x="455.9" y="385" font-size="12.5" letter-spacing="-0.20">0:00</text>
<text x="446.9" y="394"  letter-spacing="0.14">Aug.27</text>
<text x="657.4" y="385" font-size="12.5" letter-spacing="-0.17">12:00</text>
<text x="654.6" y="394"  letter-spacing="0.14">Aug.27</text>
<text x="871.4" y="385" font-size="12.5" letter-spacing="-0.20">0:00</text>
<text x="862.4" y="394"  letter-spacing="0.14">Aug.28</text>
<text x="1072.9" y="385" font-size="12.5" letter-spacing="-0.18">12:00</text>
<text x="1070.1" y="394"  letter-spacing="0.14">Aug.28</text>
<text x="1286.8" y="385" font-size="12.5" letter-spacing="-0.20">0:00</text>
<text x="1277.8" y="394"  letter-spacing="0.14">Aug.29</text>
<text x="619.8" y="406"  letter-spacing="0.59">hours:minutes,</text>
<text x="704.0" y="406" >Aug.</text>
<text x="733.0" y="406"  letter-spacing="0.50">26,</text>
<text x="755.0" y="406"  letter-spacing="0.83">2014</text>
<text x="789.0" y="406" >–</text>
<text x="802.0" y="406"  letter-spacing="-0.17">Aug.</text>
<text x="830.0" y="406"  letter-spacing="0.50">29,</text>
<text x="853.0" y="406"  letter-spacing="0.83">2014</text>
<text transform="translate(20,113.8) rotate(-90)"  letter-spacing="-0.53">ENLIL</text>
<text transform="translate(30,129.2) rotate(-90)"  letter-spacing="0.29">Ion Density</text>
<text transform="translate(49.2,111.7) rotate(-90)" font-size="10">c</text>
<text transform="translate(49.2,106.8) rotate(-90)" font-size="10.5">m</text>
<text transform="translate(44,91.9) rotate(-90)" font-size="7.5">3</text>
<text transform="translate(18.2,293.7) rotate(-90)"  letter-spacing="-0.48">ENLIL</text>
<text transform="translate(27,306.9) rotate(-90)" >B</text>
<text transform="translate(30,300.2) rotate(-90)" font-size="8">r</text>
<text transform="translate(27,291.8) rotate(-90)"  letter-spacing="0.43">polarity</text>
<text transform="translate(1461.2,113.8) rotate(-90)"  letter-spacing="-0.50">ENLIL</text>
<text transform="translate(1470.4,120.0) rotate(-90)"  letter-spacing="0.40">Velocity</text>
<text transform="translate(1480,115.3) rotate(-90)" font-size="10">k</text>
<text transform="translate(1480,109.6) rotate(-90)" font-size="10.5">m</text>
<text transform="translate(1480,90.1) rotate(-90)" font-size="10">s</text></g>
</svg>
</body></html>
